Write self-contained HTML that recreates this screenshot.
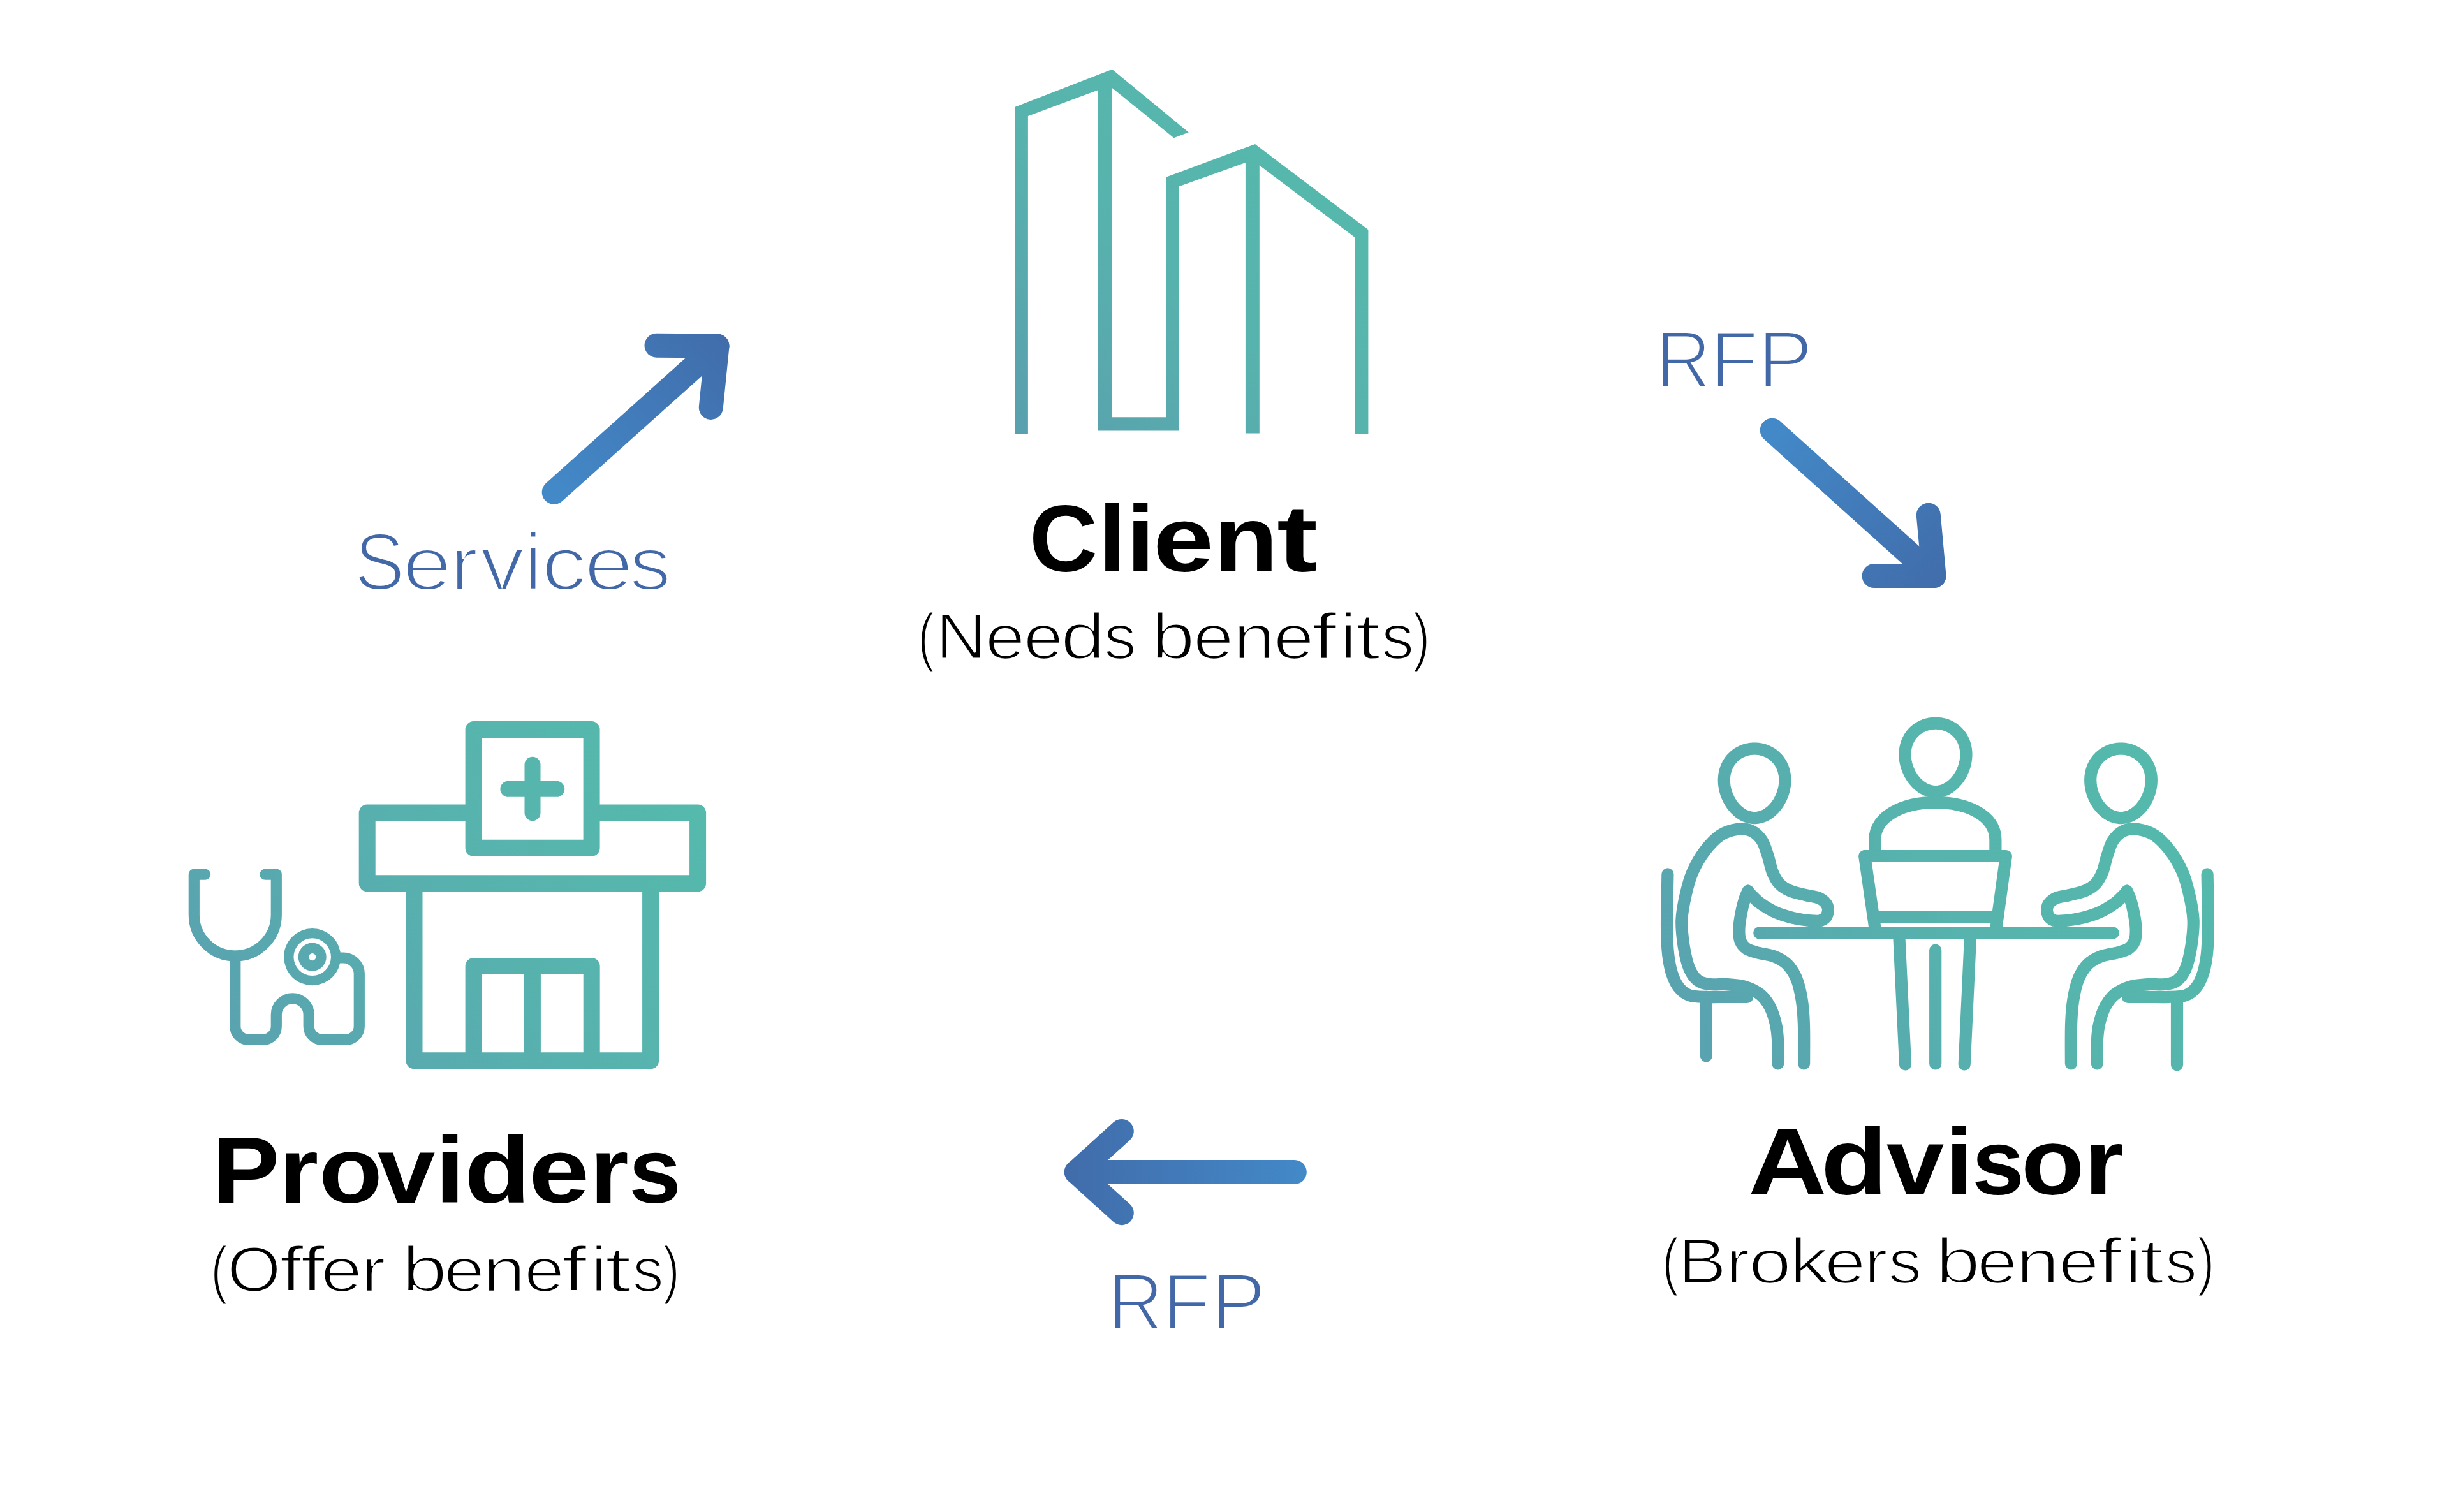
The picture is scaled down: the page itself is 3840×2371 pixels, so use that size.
<!DOCTYPE html><html><head><meta charset="utf-8"><style>
html,body{margin:0;padding:0;background:#fff;}
body{width:3840px;height:2371px;position:relative;overflow:hidden;}
svg{position:absolute;left:0;top:0;}
.w{position:absolute;left:0;top:0;width:0;height:0;white-space:nowrap;font-family:"Liberation Sans",sans-serif;font-variant-ligatures:none;font-kerning:none;}
.w span{position:absolute;white-space:nowrap;}
</style></head><body>
<svg width="3840" height="2371" viewBox="0 0 3840 2371">
<defs>
<linearGradient id="gB" gradientUnits="userSpaceOnUse" x1="1591" y1="680" x2="2146" y2="110"><stop offset="0" stop-color="#5a9fae"/><stop offset="0.45" stop-color="#57b3ad"/><stop offset="1" stop-color="#55bbac"/></linearGradient>
<linearGradient id="gH" gradientUnits="userSpaceOnUse" x1="296" y1="1676" x2="1107" y2="1131"><stop offset="0" stop-color="#5aa0b0"/><stop offset="0.5" stop-color="#57b1ae"/><stop offset="1" stop-color="#55bbac"/></linearGradient>
<linearGradient id="gM" gradientUnits="userSpaceOnUse" x1="2603" y1="1678" x2="3473" y2="1123"><stop offset="0" stop-color="#5aa0b0"/><stop offset="0.5" stop-color="#56b3ad"/><stop offset="1" stop-color="#55bbac"/></linearGradient>
<linearGradient id="gA1" gradientUnits="userSpaceOnUse" x1="869" y1="772" x2="1144" y2="523"><stop offset="0" stop-color="#4389c8"/><stop offset="1" stop-color="#416caa"/></linearGradient>
<linearGradient id="gA2" gradientUnits="userSpaceOnUse" x1="2779" y1="675" x2="3052" y2="918"><stop offset="0" stop-color="#4389c8"/><stop offset="1" stop-color="#416caa"/></linearGradient>
<linearGradient id="gA3" gradientUnits="userSpaceOnUse" x1="2049" y1="1838" x2="1669" y2="1838"><stop offset="0" stop-color="#4389c8"/><stop offset="1" stop-color="#416caa"/></linearGradient>
</defs>
<path d="M 1591.0,680.5 L 1591.0,168.1 L 1743.8,108.8 L 1863.8,207.5 L 1840.6,216.2 L 1743.2,137.5 L 1743.2,654.3 L 1828.3,654.3 L 1828.3,277.7 L 1967.9,226.1 L 2145.4,360.3 L 2145.4,680.0 L 2124.1,680.0 L 2124.1,372.0 L 1974.8,259.2 L 1974.8,679.5 L 1952.9,679.5 L 1952.9,255.0 L 1848.9,292.2 L 1848.9,675.6 L 1721.9,675.6 L 1721.9,141.2 L 1611.9,181.9 L 1611.9,680.5 Z" fill="url(#gB)"/>
<g fill="none" stroke="url(#gA1)" stroke-width="38" stroke-linecap="round" stroke-linejoin="round"><path d="M 868.7,771.9 L 1124.5,542.5"/><path d="M 1029.5,541.7 L 1124.5,542.5 L 1114.8,638.9"/></g>
<g fill="none" stroke="url(#gA2)" stroke-width="38" stroke-linecap="round" stroke-linejoin="round"><path d="M 2778.7,674.7 L 3032.5,903"/><path d="M 2938.6,903.1 L 3032.5,903 L 3023.8,807.7"/></g>
<g fill="none" stroke="url(#gA3)" stroke-width="38" stroke-linecap="round" stroke-linejoin="round"><path d="M 2029.8,1838 L 1687.9,1838"/><path d="M 1758.8,1773.9 L 1687.9,1838 L 1758.8,1902.2"/></g>
<g fill="none" stroke="url(#gH)" stroke-width="26" stroke-linecap="round" stroke-linejoin="round">
<rect x="742.6" y="1144.1" width="185" height="185.7"/>
<path d="M 729.6,1274.5 H 575.7 V 1385.2 H 1094.1 V 1274.5 H 940.5"/>
<path d="M 649.5,1398 V 1663.3 H 1020.1 V 1398"/>
<path d="M 742.6,1663.3 V 1515 H 927.7 V 1663.3 M 834.9,1515 V 1663.3"/>
<path d="M 835,1199.2 V 1274.7 M 796.9,1237.3 H 872.8" stroke-width="25"/>
</g>
<g fill="none" stroke="url(#gH)" stroke-width="17.2" stroke-linecap="round" stroke-linejoin="round">
<path d="M 321.6,1371.2 H 304.3 V 1434.5 A 64.5,64.5 0 0 0 433.3,1434.5 V 1371.2 H 416"/>
<path d="M 368.8,1499 V 1609.3 A 21,21 0 0 0 389.8,1630.3 H 412.3 A 21,21 0 0 0 433.3,1609.3 V 1591.2 A 25.45,25.45 0 0 1 484.2,1591.2 V 1609.3 A 21,21 0 0 0 505.2,1630.3 H 542.3 A 21,21 0 0 0 563.3,1609.3 V 1527 A 25,25 0 0 0 538.3,1502 H 520"/>
</g>
<circle cx="489.7" cy="1500.6" r="44.6" fill="url(#gH)"/><circle cx="489.7" cy="1500.6" r="29.3" fill="#fff"/><circle cx="489.7" cy="1500.6" r="22" fill="url(#gH)"/><circle cx="489.7" cy="1500.6" r="5.6" fill="#fff"/>
<g fill="none" stroke="url(#gM)" stroke-width="19.2" stroke-linecap="round" stroke-linejoin="round">
<path d="M 2798.70,1228.34 L 2798.52,1230.23 L 2798.29,1232.12 L 2798.00,1234.01 L 2797.65,1235.89 L 2797.25,1237.76 L 2796.79,1239.62 L 2796.28,1241.47 L 2795.72,1243.30 L 2795.11,1245.11 L 2794.45,1246.90 L 2793.75,1248.67 L 2793.00,1250.41 L 2792.20,1252.13 L 2791.35,1253.82 L 2790.47,1255.47 L 2789.54,1257.10 L 2788.58,1258.69 L 2787.57,1260.24 L 2786.53,1261.75 L 2785.46,1263.22 L 2784.35,1264.65 L 2783.20,1266.04 L 2782.03,1267.38 L 2780.82,1268.67 L 2779.59,1269.91 L 2778.33,1271.11 L 2777.04,1272.25 L 2775.73,1273.33 L 2774.40,1274.36 L 2773.05,1275.34 L 2771.67,1276.26 L 2770.28,1277.12 L 2768.87,1277.92 L 2767.45,1278.66 L 2766.01,1279.34 L 2764.55,1279.96 L 2763.09,1280.51 L 2761.61,1281.00 L 2760.13,1281.43 L 2758.64,1281.79 L 2757.14,1282.08 L 2755.63,1282.31 L 2754.13,1282.48 L 2752.62,1282.58 L 2751.10,1282.61 L 2749.59,1282.58 L 2748.08,1282.48 L 2746.57,1282.31 L 2745.07,1282.08 L 2743.57,1281.79 L 2742.08,1281.43 L 2740.60,1281.00 L 2739.12,1280.51 L 2737.66,1279.96 L 2736.20,1279.34 L 2734.76,1278.66 L 2733.34,1277.92 L 2731.93,1277.12 L 2730.53,1276.26 L 2729.16,1275.34 L 2727.81,1274.36 L 2726.47,1273.33 L 2725.16,1272.25 L 2723.88,1271.11 L 2722.62,1269.91 L 2721.39,1268.67 L 2720.18,1267.38 L 2719.01,1266.04 L 2717.86,1264.65 L 2716.75,1263.22 L 2715.68,1261.75 L 2714.63,1260.24 L 2713.63,1258.69 L 2712.67,1257.10 L 2711.74,1255.47 L 2710.85,1253.82 L 2710.01,1252.13 L 2709.21,1250.41 L 2708.46,1248.67 L 2707.75,1246.90 L 2707.10,1245.11 L 2706.49,1243.30 L 2705.93,1241.47 L 2705.42,1239.62 L 2704.96,1237.76 L 2704.56,1235.89 L 2704.21,1234.01 L 2703.92,1232.12 L 2703.69,1230.23 L 2703.51,1228.34 L 2703.39,1226.44 L 2703.33,1224.55 L 2703.32,1222.66 L 2703.38,1220.78 L 2703.50,1218.91 L 2703.68,1217.05 L 2703.92,1215.20 L 2704.22,1213.37 L 2704.58,1211.56 L 2705.00,1209.77 L 2705.49,1208.00 L 2706.03,1206.26 L 2706.64,1204.54 L 2707.30,1202.85 L 2708.03,1201.20 L 2708.82,1199.57 L 2709.66,1197.98 L 2710.56,1196.43 L 2711.52,1194.92 L 2712.53,1193.45 L 2713.60,1192.02 L 2714.73,1190.63 L 2715.90,1189.29 L 2717.13,1188.00 L 2718.40,1186.76 L 2719.72,1185.56 L 2721.09,1184.42 L 2722.50,1183.34 L 2723.96,1182.31 L 2725.45,1181.33 L 2726.98,1180.41 L 2728.55,1179.55 L 2730.15,1178.75 L 2731.79,1178.01 L 2733.45,1177.33 L 2735.14,1176.71 L 2736.85,1176.16 L 2738.58,1175.67 L 2740.34,1175.24 L 2742.11,1174.88 L 2743.89,1174.59 L 2745.68,1174.36 L 2747.49,1174.19 L 2749.29,1174.09 L 2751.10,1174.06 L 2752.92,1174.09 L 2754.72,1174.19 L 2756.53,1174.36 L 2758.32,1174.59 L 2760.10,1174.88 L 2761.87,1175.24 L 2763.63,1175.67 L 2765.36,1176.16 L 2767.07,1176.71 L 2768.76,1177.33 L 2770.42,1178.01 L 2772.06,1178.75 L 2773.66,1179.55 L 2775.23,1180.41 L 2776.76,1181.33 L 2778.25,1182.31 L 2779.71,1183.34 L 2781.12,1184.42 L 2782.49,1185.56 L 2783.81,1186.76 L 2785.08,1188.00 L 2786.31,1189.29 L 2787.48,1190.63 L 2788.61,1192.02 L 2789.68,1193.45 L 2790.69,1194.92 L 2791.65,1196.43 L 2792.55,1197.98 L 2793.39,1199.57 L 2794.18,1201.20 L 2794.91,1202.85 L 2795.57,1204.54 L 2796.18,1206.26 L 2796.72,1208.00 L 2797.21,1209.77 L 2797.63,1211.56 L 2797.99,1213.37 L 2798.29,1215.20 L 2798.53,1217.05 L 2798.71,1218.91 L 2798.83,1220.78 L 2798.89,1222.66 L 2798.88,1224.55 L 2798.82,1226.44 Z"/>
<path d="M 3082.74,1187.87 L 3082.57,1189.74 L 3082.33,1191.61 L 3082.04,1193.48 L 3081.69,1195.34 L 3081.28,1197.19 L 3080.83,1199.03 L 3080.32,1200.86 L 3079.75,1202.67 L 3079.14,1204.46 L 3078.48,1206.23 L 3077.77,1207.98 L 3077.02,1209.71 L 3076.21,1211.41 L 3075.37,1213.08 L 3074.48,1214.72 L 3073.55,1216.32 L 3072.58,1217.90 L 3071.57,1219.43 L 3070.53,1220.93 L 3069.45,1222.39 L 3068.33,1223.80 L 3067.18,1225.17 L 3066.00,1226.50 L 3064.79,1227.78 L 3063.56,1229.01 L 3062.29,1230.18 L 3061.00,1231.31 L 3059.69,1232.39 L 3058.35,1233.41 L 3056.99,1234.37 L 3055.61,1235.28 L 3054.21,1236.13 L 3052.80,1236.93 L 3051.36,1237.66 L 3049.92,1238.33 L 3048.46,1238.94 L 3046.99,1239.49 L 3045.51,1239.97 L 3044.02,1240.40 L 3042.52,1240.75 L 3041.01,1241.05 L 3039.50,1241.27 L 3037.99,1241.44 L 3036.47,1241.54 L 3034.96,1241.57 L 3033.44,1241.54 L 3031.92,1241.44 L 3030.41,1241.27 L 3028.90,1241.05 L 3027.39,1240.75 L 3025.89,1240.40 L 3024.40,1239.97 L 3022.92,1239.49 L 3021.45,1238.94 L 3019.99,1238.33 L 3018.55,1237.66 L 3017.12,1236.93 L 3015.70,1236.13 L 3014.30,1235.28 L 3012.92,1234.37 L 3011.56,1233.41 L 3010.23,1232.39 L 3008.91,1231.31 L 3007.62,1230.18 L 3006.36,1229.01 L 3005.12,1227.78 L 3003.91,1226.50 L 3002.73,1225.17 L 3001.58,1223.80 L 3000.47,1222.39 L 2999.38,1220.93 L 2998.34,1219.43 L 2997.33,1217.90 L 2996.36,1216.32 L 2995.43,1214.72 L 2994.54,1213.08 L 2993.70,1211.41 L 2992.90,1209.71 L 2992.14,1207.98 L 2991.43,1206.23 L 2990.77,1204.46 L 2990.16,1202.67 L 2989.60,1200.86 L 2989.09,1199.03 L 2988.63,1197.19 L 2988.22,1195.34 L 2987.88,1193.48 L 2987.58,1191.61 L 2987.35,1189.74 L 2987.17,1187.87 L 2987.05,1185.99 L 2986.98,1184.12 L 2986.98,1182.25 L 2987.04,1180.39 L 2987.16,1178.54 L 2987.34,1176.70 L 2987.58,1174.88 L 2987.88,1173.07 L 2988.24,1171.27 L 2988.67,1169.50 L 2989.15,1167.75 L 2989.70,1166.02 L 2990.31,1164.33 L 2990.98,1162.66 L 2991.71,1161.02 L 2992.50,1159.41 L 2993.34,1157.84 L 2994.25,1156.30 L 2995.21,1154.81 L 2996.23,1153.35 L 2997.30,1151.93 L 2998.43,1150.56 L 2999.61,1149.24 L 3000.84,1147.96 L 3002.12,1146.73 L 3003.45,1145.55 L 3004.82,1144.42 L 3006.24,1143.35 L 3007.70,1142.33 L 3009.20,1141.36 L 3010.74,1140.45 L 3012.31,1139.60 L 3013.92,1138.81 L 3015.56,1138.08 L 3017.23,1137.40 L 3018.92,1136.79 L 3020.64,1136.25 L 3022.39,1135.76 L 3024.15,1135.34 L 3025.92,1134.98 L 3027.71,1134.69 L 3029.51,1134.46 L 3031.32,1134.30 L 3033.14,1134.20 L 3034.96,1134.17 L 3036.77,1134.20 L 3038.59,1134.30 L 3040.40,1134.46 L 3042.20,1134.69 L 3043.99,1134.98 L 3045.77,1135.34 L 3047.53,1135.76 L 3049.27,1136.25 L 3050.99,1136.79 L 3052.68,1137.40 L 3054.35,1138.08 L 3055.99,1138.81 L 3057.60,1139.60 L 3059.17,1140.45 L 3060.71,1141.36 L 3062.21,1142.33 L 3063.67,1143.35 L 3065.09,1144.42 L 3066.46,1145.55 L 3067.79,1146.73 L 3069.07,1147.96 L 3070.30,1149.24 L 3071.48,1150.56 L 3072.61,1151.93 L 3073.68,1153.35 L 3074.70,1154.81 L 3075.66,1156.30 L 3076.57,1157.84 L 3077.42,1159.41 L 3078.20,1161.02 L 3078.93,1162.66 L 3079.60,1164.33 L 3080.21,1166.02 L 3080.76,1167.75 L 3081.25,1169.50 L 3081.67,1171.27 L 3082.03,1173.07 L 3082.33,1174.88 L 3082.58,1176.70 L 3082.75,1178.54 L 3082.87,1180.39 L 3082.93,1182.25 L 3082.93,1184.12 L 3082.87,1185.99 Z"/>
<path d="M 3373.12,1228.34 L 3372.94,1230.23 L 3372.70,1232.12 L 3372.41,1234.01 L 3372.06,1235.89 L 3371.66,1237.76 L 3371.21,1239.62 L 3370.70,1241.47 L 3370.14,1243.30 L 3369.53,1245.11 L 3368.87,1246.90 L 3368.16,1248.67 L 3367.41,1250.41 L 3366.61,1252.13 L 3365.77,1253.82 L 3364.89,1255.47 L 3363.96,1257.10 L 3362.99,1258.69 L 3361.99,1260.24 L 3360.95,1261.75 L 3359.87,1263.22 L 3358.76,1264.65 L 3357.62,1266.04 L 3356.44,1267.38 L 3355.24,1268.67 L 3354.01,1269.91 L 3352.75,1271.11 L 3351.46,1272.25 L 3350.15,1273.33 L 3348.82,1274.36 L 3347.46,1275.34 L 3346.09,1276.26 L 3344.70,1277.12 L 3343.29,1277.92 L 3341.86,1278.66 L 3340.42,1279.34 L 3338.97,1279.96 L 3337.50,1280.51 L 3336.03,1281.00 L 3334.54,1281.43 L 3333.05,1281.79 L 3331.55,1282.08 L 3330.05,1282.31 L 3328.54,1282.48 L 3327.03,1282.58 L 3325.52,1282.61 L 3324.01,1282.58 L 3322.50,1282.48 L 3320.99,1282.31 L 3319.49,1282.08 L 3317.99,1281.79 L 3316.49,1281.43 L 3315.01,1281.00 L 3313.54,1280.51 L 3312.07,1279.96 L 3310.62,1279.34 L 3309.18,1278.66 L 3307.75,1277.92 L 3306.34,1277.12 L 3304.95,1276.26 L 3303.58,1275.34 L 3302.22,1274.36 L 3300.89,1273.33 L 3299.58,1272.25 L 3298.29,1271.11 L 3297.03,1269.91 L 3295.80,1268.67 L 3294.60,1267.38 L 3293.42,1266.04 L 3292.28,1264.65 L 3291.17,1263.22 L 3290.09,1261.75 L 3289.05,1260.24 L 3288.05,1258.69 L 3287.08,1257.10 L 3286.15,1255.47 L 3285.27,1253.82 L 3284.43,1252.13 L 3283.63,1250.41 L 3282.88,1248.67 L 3282.17,1246.90 L 3281.51,1245.11 L 3280.90,1243.30 L 3280.34,1241.47 L 3279.83,1239.62 L 3279.38,1237.76 L 3278.98,1235.89 L 3278.63,1234.01 L 3278.34,1232.12 L 3278.10,1230.23 L 3277.92,1228.34 L 3277.80,1226.44 L 3277.74,1224.55 L 3277.74,1222.66 L 3277.80,1220.78 L 3277.91,1218.91 L 3278.09,1217.05 L 3278.33,1215.20 L 3278.63,1213.37 L 3278.99,1211.56 L 3279.42,1209.77 L 3279.90,1208.00 L 3280.45,1206.26 L 3281.05,1204.54 L 3281.72,1202.85 L 3282.44,1201.20 L 3283.23,1199.57 L 3284.07,1197.98 L 3284.98,1196.43 L 3285.93,1194.92 L 3286.95,1193.45 L 3288.02,1192.02 L 3289.14,1190.63 L 3290.32,1189.29 L 3291.54,1188.00 L 3292.82,1186.76 L 3294.14,1185.56 L 3295.51,1184.42 L 3296.92,1183.34 L 3298.37,1182.31 L 3299.87,1181.33 L 3301.40,1180.41 L 3302.97,1179.55 L 3304.57,1178.75 L 3306.20,1178.01 L 3307.86,1177.33 L 3309.55,1176.71 L 3311.27,1176.16 L 3313.00,1175.67 L 3314.75,1175.24 L 3316.52,1174.88 L 3318.31,1174.59 L 3320.10,1174.36 L 3321.90,1174.19 L 3323.71,1174.09 L 3325.52,1174.06 L 3327.33,1174.09 L 3329.14,1174.19 L 3330.94,1174.36 L 3332.73,1174.59 L 3334.52,1174.88 L 3336.29,1175.24 L 3338.04,1175.67 L 3339.77,1176.16 L 3341.49,1176.71 L 3343.18,1177.33 L 3344.84,1178.01 L 3346.47,1178.75 L 3348.07,1179.55 L 3349.64,1180.41 L 3351.17,1181.33 L 3352.67,1182.31 L 3354.12,1183.34 L 3355.53,1184.42 L 3356.90,1185.56 L 3358.22,1186.76 L 3359.50,1188.00 L 3360.72,1189.29 L 3361.90,1190.63 L 3363.02,1192.02 L 3364.09,1193.45 L 3365.11,1194.92 L 3366.06,1196.43 L 3366.97,1197.98 L 3367.81,1199.57 L 3368.59,1201.20 L 3369.32,1202.85 L 3369.99,1204.54 L 3370.59,1206.26 L 3371.14,1208.00 L 3371.62,1209.77 L 3372.05,1211.56 L 3372.41,1213.37 L 3372.71,1215.20 L 3372.95,1217.05 L 3373.13,1218.91 L 3373.24,1220.78 L 3373.30,1222.66 L 3373.30,1224.55 L 3373.24,1226.44 Z"/>
<path d="M 2939.8,1342.5 L 2939.8,1317.1 C 2939.8,1278.8 2985.1,1258.4 3035.0,1258.4 C 3084.8,1258.4 3128.9,1278.8 3128.9,1317.1 L 3128.9,1342.5"/>
<path stroke-linecap="butt" stroke-linejoin="round" d="M 2940.2,1457.1 L 2923.7,1342.5 L 3145.4,1342.5 L 3129.7,1457.1 M 2940.2,1438.0 L 3129.7,1438.0"/>
<path d="M 2758.8,1462.9 L 3313.1,1462.9"/>
<path d="M 2978,1472 L 2987.5,1669 M 3089.4,1472 L 3080.2,1669 M 3034.7,1490 L 3034.7,1668"/>
<path d="M 2787.7,1667.8 C 2787.7,1662.0 2788.2,1643.0 2787.7,1632.6 C 2787.1,1622.2 2786.6,1614.5 2784.4,1605.5 C 2782.3,1596.4 2779.0,1586.0 2774.9,1578.3 C 2770.9,1570.7 2766.6,1564.6 2760.0,1559.4 C 2753.5,1554.2 2744.2,1549.8 2735.6,1547.2 C 2727.0,1544.5 2717.5,1544.2 2708.5,1543.6 C 2699.4,1543.0 2689.1,1544.6 2681.4,1543.6 C 2673.7,1542.6 2667.8,1541.8 2662.4,1537.7 C 2657.0,1533.5 2652.5,1527.7 2648.8,1518.7 C 2645.1,1509.6 2642.1,1496.1 2640.1,1483.4 C 2638.2,1470.8 2636.3,1456.3 2636.9,1442.7 C 2637.4,1429.2 2640.5,1414.7 2643.4,1402.1 C 2646.3,1389.4 2649.3,1378.1 2654.2,1366.8 C 2659.2,1355.5 2666.0,1343.7 2673.2,1334.2 C 2680.5,1324.8 2689.1,1315.5 2697.6,1309.8 C 2706.2,1304.2 2716.6,1301.5 2724.8,1300.3 C 2732.9,1299.2 2740.1,1300.1 2746.5,1303.1 C 2752.8,1306.0 2758.4,1311.4 2762.7,1318.0 C 2767.0,1324.5 2769.5,1334.2 2772.2,1342.4 C 2774.9,1350.5 2776.1,1359.6 2779.0,1366.8 C 2781.9,1374.0 2785.3,1380.8 2789.9,1385.8 C 2794.4,1390.7 2799.3,1393.7 2806.1,1396.6 C 2812.9,1399.6 2822.6,1401.4 2830.5,1403.4 C 2838.5,1405.4 2847.8,1406.0 2853.6,1408.8 C 2859.4,1411.7 2863.4,1416.1 2865.3,1420.5 C 2867.1,1424.9 2866.4,1431.3 2864.7,1435.1 C 2863.0,1439.0 2859.3,1442.1 2854.9,1443.5 C 2850.6,1445.0 2845.9,1444.5 2838.7,1443.8 C 2831.4,1443.1 2820.6,1441.6 2811.6,1439.5 C 2802.5,1437.3 2793.0,1434.6 2784.4,1430.8 C 2775.8,1427.0 2766.6,1421.1 2760.0,1416.4 C 2753.5,1411.7 2748.3,1405.8 2745.1,1402.6 C 2741.9,1399.4 2741.7,1398.1 2741.0,1397.2 M 2741.0,1397.2 C 2740.1,1399.3 2737.4,1404.4 2735.6,1410.2 C 2733.8,1416.0 2731.6,1424.2 2730.2,1431.9 C 2728.7,1439.6 2727.2,1449.1 2726.9,1456.3 C 2726.7,1463.5 2726.9,1470.1 2728.8,1475.3 C 2730.7,1480.5 2733.6,1484.3 2738.3,1487.5 C 2743.1,1490.7 2750.1,1492.2 2757.3,1494.3 C 2764.5,1496.3 2774.3,1496.8 2781.7,1499.7 C 2789.2,1502.6 2796.2,1506.0 2802.1,1511.9 C 2807.9,1517.8 2813.1,1525.7 2817.0,1534.9 C 2820.8,1544.2 2823.2,1555.7 2825.1,1567.5 C 2827.0,1579.2 2827.8,1588.7 2828.4,1605.5 C 2829.0,1622.2 2828.6,1657.5 2828.6,1667.8 M 2614.9,1370.9 C 2614.8,1378.3 2614.3,1401.4 2614.1,1415.6 C 2613.9,1429.9 2613.3,1442.7 2613.6,1456.3 C 2613.8,1469.9 2614.4,1485.2 2615.7,1497.0 C 2617.1,1508.7 2618.9,1518.2 2621.7,1526.8 C 2624.5,1535.4 2628.0,1542.9 2632.5,1548.5 C 2637.1,1554.2 2641.6,1558.2 2648.8,1560.7 C 2656.1,1563.2 2666.0,1563.0 2675.9,1563.4 C 2685.9,1563.9 2697.9,1563.4 2708.5,1563.4 C 2719.1,1563.4 2734.5,1563.4 2739.7,1563.4"/>
<path d="M 3288.3,1667.8 C 3288.3,1662.0 3287.8,1643.0 3288.3,1632.6 C 3288.9,1622.2 3289.4,1614.5 3291.6,1605.5 C 3293.7,1596.4 3297.0,1586.0 3301.1,1578.3 C 3305.1,1570.7 3309.4,1564.6 3316.0,1559.4 C 3322.5,1554.2 3331.8,1549.8 3340.4,1547.2 C 3349.0,1544.5 3358.5,1544.2 3367.5,1543.6 C 3376.6,1543.0 3386.9,1544.6 3394.6,1543.6 C 3402.3,1542.6 3408.2,1541.8 3413.6,1537.7 C 3419.0,1533.5 3423.5,1527.7 3427.2,1518.7 C 3430.9,1509.6 3433.9,1496.1 3435.9,1483.4 C 3437.8,1470.8 3439.7,1456.3 3439.1,1442.7 C 3438.6,1429.2 3435.5,1414.7 3432.6,1402.1 C 3429.7,1389.4 3426.7,1378.1 3421.8,1366.8 C 3416.8,1355.5 3410.0,1343.7 3402.8,1334.2 C 3395.5,1324.8 3386.9,1315.5 3378.4,1309.8 C 3369.8,1304.2 3359.4,1301.5 3351.2,1300.3 C 3343.1,1299.2 3335.9,1300.1 3329.5,1303.1 C 3323.2,1306.0 3317.6,1311.4 3313.3,1318.0 C 3309.0,1324.5 3306.5,1334.2 3303.8,1342.4 C 3301.1,1350.5 3299.9,1359.6 3297.0,1366.8 C 3294.1,1374.0 3290.7,1380.8 3286.1,1385.8 C 3281.6,1390.7 3276.7,1393.7 3269.9,1396.6 C 3263.1,1399.6 3253.4,1401.4 3245.5,1403.4 C 3237.5,1405.4 3228.2,1406.0 3222.4,1408.8 C 3216.6,1411.7 3212.6,1416.1 3210.7,1420.5 C 3208.9,1424.9 3209.6,1431.3 3211.3,1435.1 C 3213.0,1439.0 3216.7,1442.1 3221.1,1443.5 C 3225.4,1445.0 3230.1,1444.5 3237.3,1443.8 C 3244.6,1443.1 3255.4,1441.6 3264.4,1439.5 C 3273.5,1437.3 3283.0,1434.6 3291.6,1430.8 C 3300.2,1427.0 3309.4,1421.1 3316.0,1416.4 C 3322.5,1411.7 3327.7,1405.8 3330.9,1402.6 C 3334.1,1399.4 3334.3,1398.1 3335.0,1397.2 M 3335.0,1397.2 C 3335.9,1399.3 3338.6,1404.4 3340.4,1410.2 C 3342.2,1416.0 3344.4,1424.2 3345.8,1431.9 C 3347.3,1439.6 3348.8,1449.1 3349.1,1456.3 C 3349.3,1463.5 3349.1,1470.1 3347.2,1475.3 C 3345.3,1480.5 3342.4,1484.3 3337.7,1487.5 C 3332.9,1490.7 3325.9,1492.2 3318.7,1494.3 C 3311.5,1496.3 3301.7,1496.8 3294.3,1499.7 C 3286.8,1502.6 3279.8,1506.0 3273.9,1511.9 C 3268.1,1517.8 3262.9,1525.7 3259.0,1534.9 C 3255.2,1544.2 3252.8,1555.7 3250.9,1567.5 C 3249.0,1579.2 3248.2,1588.7 3247.6,1605.5 C 3247.0,1622.2 3247.4,1657.5 3247.4,1667.8 M 3461.1,1370.9 C 3461.2,1378.3 3461.7,1401.4 3461.9,1415.6 C 3462.1,1429.9 3462.7,1442.7 3462.4,1456.3 C 3462.2,1469.9 3461.6,1485.2 3460.3,1497.0 C 3458.9,1508.7 3457.1,1518.2 3454.3,1526.8 C 3451.5,1535.4 3448.0,1542.9 3443.5,1548.5 C 3438.9,1554.2 3434.4,1558.2 3427.2,1560.7 C 3419.9,1563.2 3410.0,1563.0 3400.1,1563.4 C 3390.1,1563.9 3378.1,1563.4 3367.5,1563.4 C 3356.9,1563.4 3341.5,1563.4 3336.3,1563.4"/>
<path d="M 2675.3,1563.4 L 2675.3,1655.6 M 3413.5,1563.4 L 3413.5,1669.6"/>
</g>
</svg>
<div class="w" style="font-size:148.69px;line-height:148.69px;font-weight:700;color:#000;">
<span style="left:1613.91px;top:771.10px;transform:scaleX(0.9979);transform-origin:0 125.0px">C</span><span style="left:1722.19px;top:771.10px;transform:scaleX(1.0714);transform-origin:0 125.0px">l</span><span style="left:1766.09px;top:771.10px;transform:scaleX(1.0810);transform-origin:0 125.0px">i</span><span style="left:1808.11px;top:771.10px;transform:scale(1.1486,0.9759);transform-origin:0 125.0px">e</span><span style="left:1902.69px;top:771.10px;transform:scale(1.1111,0.9881);transform-origin:0 125.0px">n</span><span style="left:2002.30px;top:771.10px;transform:scaleX(1.3000);transform-origin:0 125.0px">t</span>
</div>
<div class="w" style="font-size:101.75px;line-height:101.75px;font-weight:400;color:#000;-webkit-text-stroke:2.80px #fff;">
<span style="left:1439.49px;top:948.20px;transform:scaleX(0.7762);transform-origin:0 83.0px">(</span><span style="left:1467.07px;top:948.20px;transform:scaleX(1.0833);transform-origin:0 83.0px">N</span><span style="left:1545.03px;top:948.20px;transform:scale(1.0956,0.9669);transform-origin:0 83.0px">e</span><span style="left:1604.93px;top:948.20px;transform:scale(1.0956,0.9669);transform-origin:0 83.0px">e</span><span style="left:1663.17px;top:948.20px;transform:scaleX(1.2381);transform-origin:0 83.0px">d</span><span style="left:1730.61px;top:948.20px;transform:scale(0.9976,0.9669);transform-origin:0 83.0px">s</span> <span style="left:1804.71px;top:948.20px;transform:scaleX(1.2116);transform-origin:0 83.0px">b</span><span style="left:1871.49px;top:948.20px;transform:scale(1.1178,0.9669);transform-origin:0 83.0px">e</span><span style="left:1933.57px;top:948.20px;transform:scale(1.1537,0.9669);transform-origin:0 83.0px">n</span><span style="left:1997.19px;top:948.20px;transform:scale(1.1178,0.9669);transform-origin:0 83.0px">e</span><span style="left:2057.25px;top:948.20px;transform:scaleX(1.3833);transform-origin:0 83.0px">f</span><span style="left:2100.87px;top:948.20px;transform:scaleX(1.1667);transform-origin:0 83.0px">i</span><span style="left:2125.60px;top:948.20px;transform:scaleX(1.3652);transform-origin:0 83.0px">t</span><span style="left:2165.96px;top:948.20px;transform:scale(1.0073,0.9669);transform-origin:0 83.0px">s</span><span style="left:2214.53px;top:948.20px;transform:scaleX(0.8143);transform-origin:0 83.0px">)</span>
</div>
<div class="w" style="font-size:125.44px;line-height:125.44px;font-weight:400;color:#4268a8;-webkit-text-stroke:4.00px #fff;">
<span style="left:556.29px;top:819.00px;transform:scaleX(0.9382);transform-origin:0 104.0px">S</span><span style="left:631.34px;top:819.00px;transform:scale(1.1091,0.9430);transform-origin:0 104.0px">e</span><span style="left:705.97px;top:819.00px;transform:scale(1.0429,0.9430);transform-origin:0 104.0px">r</span><span style="left:753.09px;top:819.00px;transform:scale(1.1018,0.9580);transform-origin:0 104.0px">v</span><span style="left:821.90px;top:819.00px;transform:scaleX(1.0000);transform-origin:0 104.0px">i</span><span style="left:849.12px;top:819.00px;transform:scale(1.1260,0.9430);transform-origin:0 104.0px">c</span><span style="left:916.39px;top:819.00px;transform:scale(1.1018,0.9430);transform-origin:0 104.0px">e</span><span style="left:987.17px;top:819.00px;transform:scale(1.0380,0.9430);transform-origin:0 104.0px">s</span>
</div>
<div class="w" style="font-size:126.31px;line-height:126.31px;font-weight:400;color:#4268a8;-webkit-text-stroke:4.00px #fff;">
<span style="left:2595.96px;top:500.90px;transform:scaleX(0.9536);transform-origin:0 104.0px">R</span><span style="left:2682.21px;top:500.90px;transform:scaleX(0.9655);transform-origin:0 104.0px">F</span><span style="left:2756.38px;top:500.90px;transform:scaleX(1.0266);transform-origin:0 104.0px">P</span>
</div>
<div class="w" style="font-size:126.31px;line-height:126.31px;font-weight:400;color:#4268a8;-webkit-text-stroke:4.00px #fff;">
<span style="left:1736.94px;top:1979.20px;transform:scaleX(0.9551);transform-origin:0 104.0px">R</span><span style="left:1822.59px;top:1979.20px;transform:scaleX(0.9759);transform-origin:0 104.0px">F</span><span style="left:1899.28px;top:1979.20px;transform:scaleX(1.0188);transform-origin:0 104.0px">P</span>
</div>
<div class="w" style="font-size:148.69px;line-height:148.69px;font-weight:700;color:#000;">
<span style="left:332.58px;top:1760.90px;transform:scaleX(1.0619);transform-origin:0 125.0px">P</span><span style="left:438.13px;top:1760.90px;transform:scale(1.0565,0.9881);transform-origin:0 125.0px">r</span><span style="left:499.50px;top:1760.90px;transform:scale(1.1000,0.9881);transform-origin:0 125.0px">o</span><span style="left:591.91px;top:1760.90px;transform:scaleX(1.0914);transform-origin:0 125.0px">v</span><span style="left:681.67px;top:1760.90px;transform:scaleX(1.1429);transform-origin:0 125.0px">i</span><span style="left:728.04px;top:1760.90px;transform:scaleX(1.1440);transform-origin:0 125.0px">d</span><span style="left:828.88px;top:1760.90px;transform:scale(1.1528,0.9759);transform-origin:0 125.0px">e</span><span style="left:924.52px;top:1760.90px;transform:scale(1.0478,0.9881);transform-origin:0 125.0px">r</span><span style="left:985.94px;top:1760.90px;transform:scale(0.9917,0.9759);transform-origin:0 125.0px">s</span>
</div>
<div class="w" style="font-size:100.44px;line-height:100.44px;font-weight:400;color:#000;-webkit-text-stroke:2.80px #fff;">
<span style="left:329.69px;top:1939.60px;transform:scaleX(0.8143);transform-origin:0 83.0px">(</span><span style="left:356.11px;top:1939.60px;transform:scaleX(1.0818);transform-origin:0 83.0px">O</span><span style="left:437.86px;top:1939.60px;transform:scaleX(1.3792);transform-origin:0 83.0px">f</span><span style="left:470.94px;top:1939.60px;transform:scaleX(1.3875);transform-origin:0 83.0px">f</span><span style="left:503.02px;top:1939.60px;transform:scale(1.1636,0.9568);transform-origin:0 83.0px">e</span><span style="left:565.53px;top:1939.60px;transform:scale(1.1591,0.9568);transform-origin:0 83.0px">r</span> <span style="left:630.09px;top:1939.60px;transform:scaleX(1.2762);transform-origin:0 83.0px">b</span><span style="left:696.33px;top:1939.60px;transform:scale(1.1455,0.9568);transform-origin:0 83.0px">e</span><span style="left:757.18px;top:1939.60px;transform:scale(1.2025,0.9568);transform-origin:0 83.0px">n</span><span style="left:822.14px;top:1939.60px;transform:scale(1.1273,0.9568);transform-origin:0 83.0px">e</span><span style="left:881.27px;top:1939.60px;transform:scaleX(1.4083);transform-origin:0 83.0px">f</span><span style="left:926.07px;top:1939.60px;transform:scaleX(1.1667);transform-origin:0 83.0px">i</span><span style="left:948.45px;top:1939.60px;transform:scaleX(1.5174);transform-origin:0 83.0px">t</span><span style="left:991.55px;top:1939.60px;transform:scale(0.9700,0.9568);transform-origin:0 83.0px">s</span><span style="left:1038.95px;top:1939.60px;transform:scaleX(0.8095);transform-origin:0 83.0px">)</span>
</div>
<div class="w" style="font-size:148.84px;line-height:148.84px;font-weight:700;color:#000;">
<span style="left:2741.40px;top:1748.00px;transform:scaleX(1.1505);transform-origin:0 125.0px">A</span><span style="left:2854.79px;top:1748.00px;transform:scaleX(1.1520);transform-origin:0 125.0px">d</span><span style="left:2958.31px;top:1748.00px;transform:scaleX(1.0901);transform-origin:0 125.0px">v</span><span style="left:3049.79px;top:1748.00px;transform:scaleX(1.0714);transform-origin:0 125.0px">i</span><span style="left:3091.54px;top:1748.00px;transform:scale(0.9917,0.9759);transform-origin:0 125.0px">s</span><span style="left:3168.84px;top:1748.00px;transform:scale(1.0937,0.9881);transform-origin:0 125.0px">o</span><span style="left:3267.94px;top:1748.00px;transform:scale(1.0761,0.9881);transform-origin:0 125.0px">r</span>
</div>
<div class="w" style="font-size:100.87px;line-height:100.87px;font-weight:400;color:#000;-webkit-text-stroke:2.80px #fff;">
<span style="left:2605.58px;top:1926.80px;transform:scaleX(0.7905);transform-origin:0 83.0px">(</span><span style="left:2630.97px;top:1926.80px;transform:scaleX(1.1333);transform-origin:0 83.0px">B</span><span style="left:2706.46px;top:1926.80px;transform:scale(1.1174,0.9568);transform-origin:0 83.0px">r</span><span style="left:2741.65px;top:1926.80px;transform:scale(1.1909,0.9568);transform-origin:0 83.0px">o</span><span style="left:2805.68px;top:1926.80px;transform:scaleX(1.2154);transform-origin:0 83.0px">k</span><span style="left:2861.41px;top:1926.80px;transform:scale(1.1477,0.9568);transform-origin:0 83.0px">e</span><span style="left:2923.43px;top:1926.80px;transform:scale(1.0957,0.9568);transform-origin:0 83.0px">r</span><span style="left:2960.54px;top:1926.80px;transform:scale(1.0325,0.9568);transform-origin:0 83.0px">s</span> <span style="left:3034.72px;top:1926.80px;transform:scaleX(1.2476);transform-origin:0 83.0px">b</span><span style="left:3100.44px;top:1926.80px;transform:scale(1.1273,0.9568);transform-origin:0 83.0px">e</span><span style="left:3160.86px;top:1926.80px;transform:scale(1.2175,0.9568);transform-origin:0 83.0px">n</span><span style="left:3228.14px;top:1926.80px;transform:scale(1.1273,0.9568);transform-origin:0 83.0px">e</span><span style="left:3287.66px;top:1926.80px;transform:scaleX(1.3792);transform-origin:0 83.0px">f</span><span style="left:3331.67px;top:1926.80px;transform:scaleX(1.1667);transform-origin:0 83.0px">i</span><span style="left:3354.82px;top:1926.80px;transform:scaleX(1.3609);transform-origin:0 83.0px">t</span><span style="left:3395.36px;top:1926.80px;transform:scale(0.9875,0.9568);transform-origin:0 83.0px">s</span><span style="left:3444.86px;top:1926.80px;transform:scaleX(0.8286);transform-origin:0 83.0px">)</span>
</div>
</body></html>
